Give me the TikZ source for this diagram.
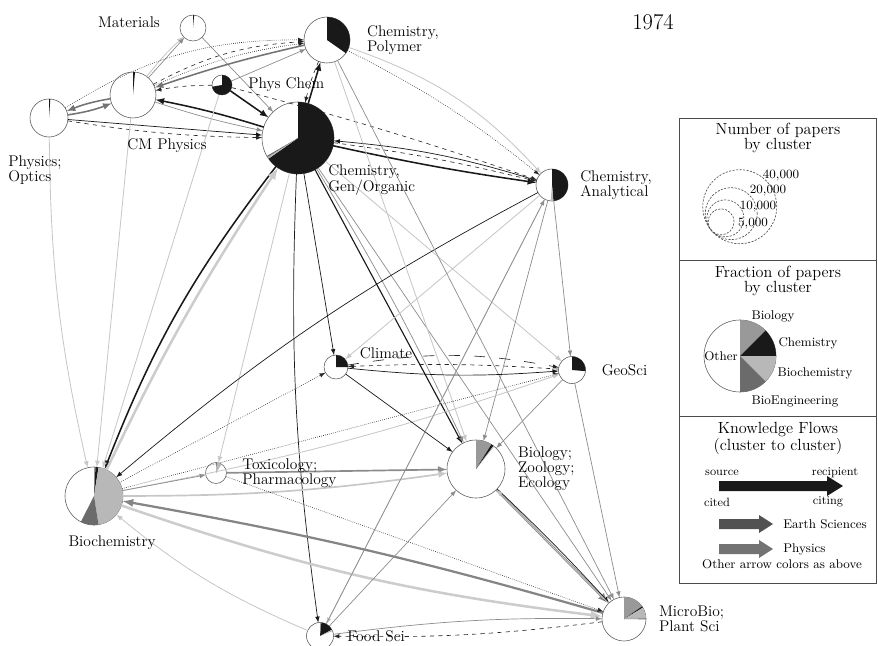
\documentclass[tikz,border=0pt]{standalone}
\usepackage{amsmath}
\usepackage{fontspec}
\usetikzlibrary{positioning}

\begin{document}
\begin{tikzpicture}[
    x = 0.025cm, y = 0.025cm,
    cluster/.append style = {draw = black!65, fill = white, circle, inner sep = 0pt, outer sep = 0pt},
    clusterLabel/.append style = {inner sep = 0pt, align = left, font = \fontsize{11}{10.7}\selectfont},
    legendTitle/.append style = {inner sep = 0pt, align = center, font = \fontsize{11.5}{10.5}\selectfont},
    legendText/.append style = {inner sep = 0pt, font = \fontsize{9}{9}\selectfont},
    bioFill/.append style = {fill = black!40},
    chemFill/.append style = {fill = black!90},
    bchemFill/.append style = {fill = black!28},
    bengFill/.append style = {fill = black!58},
    flow/.append style = {->, >=latex},
    chemFlow/.append style = {flow, draw = black!90, line width = 0.5pt},
    heavyChem/.append style = {flow, draw = black!90, line width = 1.1pt},
    bioFlow/.append style = {flow, draw = black!45, line width = 0.5pt},
    heavyBio/.append style = {flow, draw = black!48, line width = 1.6pt},
    lightFlow/.append style = {flow, draw = black!22, line width = 0.6pt},
    heavyLight/.append style = {flow, draw = black!20, line width = 1.8pt},
    physFlow/.append style = {flow, draw = black!55, line width = 1.1pt},
    otherDash/.append style = {flow, draw = black!85, line width = 0.45pt, dashed},
    otherDot/.append style = {flow, draw = black!85, line width = 0.45pt, densely dotted},
    sizeRing/.append style = {draw = black!70, dash pattern = on 1.5pt off 1pt, line width = 0.45pt}
    ]
      \useasboundingbox (0,0) rectangle (878,645);

      \node[cluster, minimum size = 0.65cm] (mat) at (193,617) {};
      \node[cluster, minimum size = 1.15cm] (poly) at (327,605) {};
      \node[cluster, minimum size = 0.5cm] (pchem) at (222,560) {};
      \node[cluster, minimum size = 1.15cm] (cmp) at (133,550) {};
      \node[cluster, minimum size = 0.95cm] (opt) at (49,527) {};
      \node[cluster, minimum size = 1.8cm] (gen) at (298,507) {};
      \node[cluster, minimum size = 0.8cm] (ana) at (552,460) {};
      \node[cluster, minimum size = 0.6cm] (clim) at (336,278) {};
      \node[cluster, minimum size = 0.675cm] (geo) at (572,275) {};
      \node[cluster, minimum size = 1.45cm] (bioc) at (94,149) {};
      \node[cluster, minimum size = 0.525cm] (tox) at (216,172) {};
      \node[cluster, minimum size = 1.45cm] (biol) at (476,176) {};
      \node[cluster, minimum size = 1.1cm] (micro) at (624,26) {};
      \node[cluster, minimum size = 0.675cm] (food) at (320,9) {};

      %% Flows
      % physics corner
      \draw[lightFlow] (cmp) to[bend left = 5] (mat);
      \draw[bioFlow] (cmp) to (mat);
      \draw[bioFlow] (mat) to (gen);
      \draw[otherDash] (cmp) to[bend left = 12] (poly);
      \draw[otherDot] (opt) to[bend left = 16] (poly);
      \draw[otherDot] (cmp) to[bend left = 8] (poly);
      \draw[physFlow] (poly) to[bend right = 3] (cmp);
      \draw[physFlow] (cmp) to[bend right = 6] (opt);
      \draw[physFlow] (opt) to[bend right = 6] (cmp);
      \draw[chemFlow] (opt) to (gen);
      \draw[otherDash] (opt) to[bend right = 4] (gen);
      \draw[heavyChem] (gen) to[bend right = 3] (cmp);
      \draw[bioFlow] (cmp) to[bend right = 3] (gen);
      \draw[heavyChem] (pchem) to (gen);
      \draw[otherDash] (pchem) to[bend right = 5] (cmp);
      \draw[bioFlow] (pchem) to (poly);
      \draw[heavyChem] (gen) to (poly);
      \draw[otherDash] (poly) to[bend right = 5] (gen);
      % chemistry
      \draw[heavyChem] (gen) to[bend right = 2] (ana);
      \draw[chemFlow] (ana) to[bend right = 6] (gen);
      \draw[otherDash] (gen) to[bend left = 3] (ana);
      \draw[otherDot] (poly) to[bend left = 6] (ana);
      \draw[lightFlow] (poly) to[bend left = 14] (ana);
      \draw[otherDash] (pchem) to[bend left = 2] (ana);
      \draw[heavyChem] (gen) to[bend right = 8] (bioc);
      \draw[heavyLight] (bioc) to[bend left = 4] (gen);
      \draw[chemFlow] (gen) to[bend right = 5] (food);
      \draw[chemFlow] (gen) to (clim);
      \draw[chemFlow, line width = 0.8pt] (gen) to (biol);
      \draw[bioFlow] (gen) to[bend left = 3] (biol);
      \draw[bioFlow] (gen) to (micro);
      \draw[lightFlow] (gen) to (geo);
      \draw[lightFlow] (gen) to (tox);
      \draw[chemFlow] (ana) to[bend right = 6] (bioc);
      \draw[lightFlow] (ana) to (clim);
      \draw[bioFlow] (ana) to (biol);
      \draw[bioFlow] (ana) to (geo);
      \draw[lightFlow] (ana) to (food);
      \draw[lightFlow] (poly) to (biol);
      \draw[bioFlow] (poly) to (micro);
      % climate and earth
      \draw[otherDash, dash pattern = on 8pt off 10pt] (clim) to[bend left = 10] (geo);
      \draw[otherDash] (geo) to[bend right = 3] (clim);
      \draw[chemFlow] (clim) to[bend right = 5] (geo);
      \draw[otherDot] (bioc) to (geo);
      \draw[lightFlow] (bioc) to[bend right = 4] (geo);
      \draw[otherDot] (bioc) to (clim);
      \draw[chemFlow] (clim) to (biol);
      \draw[bioFlow] (geo) to (biol);
      \draw[bioFlow] (geo) to (micro);
      % life sciences
      \draw[bioFlow, line width = 1.2pt] (tox) to (biol);
      \draw[lightFlow, line width = 1.2pt] (bioc) to[bend right = 4] (biol);
      \draw[bioFlow] (bioc) to (tox);
      \draw[heavyBio] (micro) to[bend right = 3] (bioc);
      \draw[heavyLight] (bioc) to[bend right = 6] (micro);
      \draw[heavyBio] (biol) to (micro);
      \draw[chemFlow] (biol) to[bend left = 2] (micro);
      \draw[lightFlow] (micro) to (biol);
      \draw[bioFlow] (food) to[bend left = 4] (micro);
      \draw[otherDash] (micro) to[bend left = 4] (food);
      \draw[bioFlow] (food) to (biol);
      \draw[bioFlow] (food) to (ana);
      \draw[lightFlow] (food) to[bend left = 8] (bioc);
      \draw[lightFlow] (opt) to[bend right = 6] (bioc);
      \draw[lightFlow] (cmp) to (bioc);
      \draw[lightFlow] (pchem) to (bioc);
      \draw[otherDot] (tox) to (micro);

      %% Pie slices
      \fill[chemFill] (mat.center) -- ++(90:13) arc[start angle = 90, end angle = 85, radius = 13] -- cycle;
      \fill[chemFill] (poly.center) -- ++(90:23) arc[start angle = 90, end angle = -35, radius = 23] -- cycle;
      \fill[chemFill] (pchem.center) -- ++(90:10) arc[start angle = 90, end angle = -170, radius = 10] -- cycle;
      \fill[chemFill] (cmp.center) -- ++(90:23) arc[start angle = 90, end angle = 85, radius = 23] -- cycle;
      \fill[chemFill] (opt.center) -- ++(90:19) arc[start angle = 90, end angle = 86, radius = 19] -- cycle;
      \fill[chemFill] (gen.center) -- ++(90:36) arc[start angle = 90, end angle = -145, radius = 36] -- cycle;
      \fill[bchemFill] (gen.center) -- ++(-145:36) arc[start angle = -145, end angle = -148, radius = 36] -- cycle;
      \fill[bengFill] (gen.center) -- ++(-148:36) arc[start angle = -148, end angle = -150, radius = 36] -- cycle;
      \fill[chemFill] (ana.center) -- ++(90:16) arc[start angle = 90, end angle = -85, radius = 16] -- cycle;
      \fill[bchemFill] (ana.center) -- ++(-85:16) arc[start angle = -85, end angle = -95, radius = 16] -- cycle;
      \fill[chemFill] (clim.center) -- ++(90:12) arc[start angle = 90, end angle = 0, radius = 12] -- cycle;
      \fill[chemFill] (geo.center) -- ++(90:13.5) arc[start angle = 90, end angle = -5, radius = 13.5] -- cycle;
      \fill[bioFill] (bioc.center) -- ++(90:29) arc[start angle = 90, end angle = 87, radius = 29] -- cycle;
      \fill[chemFill] (bioc.center) -- ++(87:29) arc[start angle = 87, end angle = 81, radius = 29] -- cycle;
      \fill[bchemFill] (bioc.center) -- ++(81:29) arc[start angle = 81, end angle = -81, radius = 29] -- cycle;
      \fill[bengFill] (bioc.center) -- ++(-81:29) arc[start angle = -81, end angle = -117, radius = 29] -- cycle;
      \fill[chemFill] (tox.center) -- ++(90:10.5) arc[start angle = 90, end angle = 86, radius = 10.5] -- cycle;
      \fill[bchemFill] (tox.center) -- ++(86:10.5) arc[start angle = 86, end angle = 58, radius = 10.5] -- cycle;
      \fill[bioFill] (biol.center) -- ++(90:29) arc[start angle = 90, end angle = 58, radius = 29] -- cycle;
      \fill[chemFill] (biol.center) -- ++(58:29) arc[start angle = 58, end angle = 53, radius = 29] -- cycle;
      \fill[bchemFill] (biol.center) -- ++(53:29) arc[start angle = 53, end angle = 51, radius = 29] -- cycle;
      \fill[bioFill] (micro.center) -- ++(90:22) arc[start angle = 90, end angle = 35, radius = 22] -- cycle;
      \fill[chemFill] (micro.center) -- ++(35:22) arc[start angle = 35, end angle = 31, radius = 22] -- cycle;
      \fill[bchemFill] (micro.center) -- ++(31:22) arc[start angle = 31, end angle = 2, radius = 22] -- cycle;
      \fill[bengFill] (micro.center) -- ++(2:22) arc[start angle = 2, end angle = -1, radius = 22] -- cycle;
      \fill[bioFill] (food.center) -- ++(90:13.5) arc[start angle = 90, end angle = 84, radius = 13.5] -- cycle;
      \fill[chemFill] (food.center) -- ++(84:13.5) arc[start angle = 84, end angle = 28, radius = 13.5] -- cycle;
      \fill[bchemFill] (food.center) -- ++(28:13.5) arc[start angle = 28, end angle = 22, radius = 13.5] -- cycle;

      %% Labels
      \node[clusterLabel] (matLabel) at (129,623) {Materials};
      \node[clusterLabel, right = 0.42cm of poly] (polyLabel) {Chemistry,\\Polymer};
      \node[clusterLabel, right = 0.4cm of pchem] (pchemLabel) {Phys Chem};
      \node[clusterLabel] (cmpLabel) at (167,499) {CM Physics};
      \node[clusterLabel, anchor = west] (optLabel) at (8,475) {Physics;\\Optics};
      \node[clusterLabel, anchor = west] (genLabel) at (328,465) {Chemistry,\\Gen/Organic};
      \node[clusterLabel, right = 0.3cm of ana] (anaLabel) {Chemistry,\\Analytical};
      \node[clusterLabel] (climLabel) at (386,292) {Climate};
      \node[clusterLabel, right = 0.4cm of geo] (geoLabel) {GeoSci};
      \node[clusterLabel] (biocLabel) at (112,102) {Biochemistry};
      \node[clusterLabel, right = 0.39cm of tox] (toxLabel) {Toxicology;\\Pharmacology};
      \node[clusterLabel, right = 0.32cm of biol] (biolLabel) {Biology;\\Zoology;\\Ecology};
      \node[clusterLabel, right = 0.32cm of micro] (microLabel) {MicroBio;\\Plant Sci};
      \node[clusterLabel, right = 0.34cm of food] (foodLabel) {Food Sci};
      \node[font = \fontsize{16}{16}\selectfont] (year) at (653,623) {1974};

      %% Legend
      \draw[black!70] (679,527) rectangle (876,385);
      \draw[black!70] (679,385) rectangle (876,229);
      \draw[black!70] (679,229) rectangle (876,62);

      \node[legendTitle] (sizeTitle) at (778,507) {Number of papers\\by cluster};
      \coordinate (sizeBase) at (711,415);
      \draw[sizeRing] (sizeBase) ++(39:37) circle[radius = 37];
      \draw[sizeRing] (sizeBase) ++(39:26) circle[radius = 26];
      \draw[sizeRing] (sizeBase) ++(39:18.5) circle[radius = 18.5];
      \draw[sizeRing] (sizeBase) ++(39:13) circle[radius = 13];
      \node[legendText] (size40) at (781,470) {40,000};
      \node[legendText] (size20) at (768,454) {20,000};
      \node[legendText] (size10) at (758,438) {10,000};
      \node[legendText] (size5) at (753,421) {5,000};

      \node[legendTitle] (fracTitle) at (778,364) {Fraction of papers\\by cluster};
      \node[cluster, minimum size = 1.8cm] (fracPie) at (740,289) {};
      \fill[bioFill] (fracPie.center) -- ++(90:36) arc[start angle = 90, end angle = 45, radius = 36] -- cycle;
      \fill[chemFill] (fracPie.center) -- ++(45:36) arc[start angle = 45, end angle = 0, radius = 36] -- cycle;
      \fill[bchemFill] (fracPie.center) -- ++(0:36) arc[start angle = 0, end angle = -45, radius = 36] -- cycle;
      \fill[bengFill] (fracPie.center) -- ++(-45:36) arc[start angle = -45, end angle = -90, radius = 36] -- cycle;
      \node[legendText] (fracBio) at (773,329) {Biology};
      \node[legendText] (fracChem) at (808,302) {Chemistry};
      \node[legendText] (fracBchem) at (815,272) {Biochemistry};
      \node[legendText] (fracBeng) at (795,244) {BioEngineering};
      \node[legendText] (fracOther) at (721,289) {Other};

      \node[legendTitle] (flowTitle) at (778,207) {Knowledge Flows\\(cluster to cluster)};
      \node[legendText, font = \fontsize{8.5}{8.5}\selectfont] (flowSource) at (722,172) {source};
      \node[legendText, font = \fontsize{8.5}{8.5}\selectfont] (flowRecipient) at (835,172) {recipient};
      \fill[black!90] (719,154) -- (827,154) -- (827,149) -- (843,159) -- (827,169) -- (827,164) -- (719,164) -- cycle;
      \node[legendText, font = \fontsize{8.5}{8.5}\selectfont] (flowCited) at (717,143) {cited};
      \node[legendText, font = \fontsize{8.5}{8.5}\selectfont] (flowCiting) at (828,143) {citing};
      \fill[black!68] (719,116) -- (759,116) -- (759,112) -- (773,121) -- (759,130) -- (759,126) -- (719,126) -- cycle;
      \node[legendText, anchor = west] (flowEarth) at (783,121) {Earth Sciences};
      \fill[black!55] (719,91) -- (759,91) -- (759,87) -- (773,96) -- (759,105) -- (759,101) -- (719,101) -- cycle;
      \node[legendText, anchor = west] (flowPhys) at (783,96) {Physics};
      \node[legendText] (flowOther) at (782,81) {Other arrow colors as above};
    \end{tikzpicture}
\end{document}
